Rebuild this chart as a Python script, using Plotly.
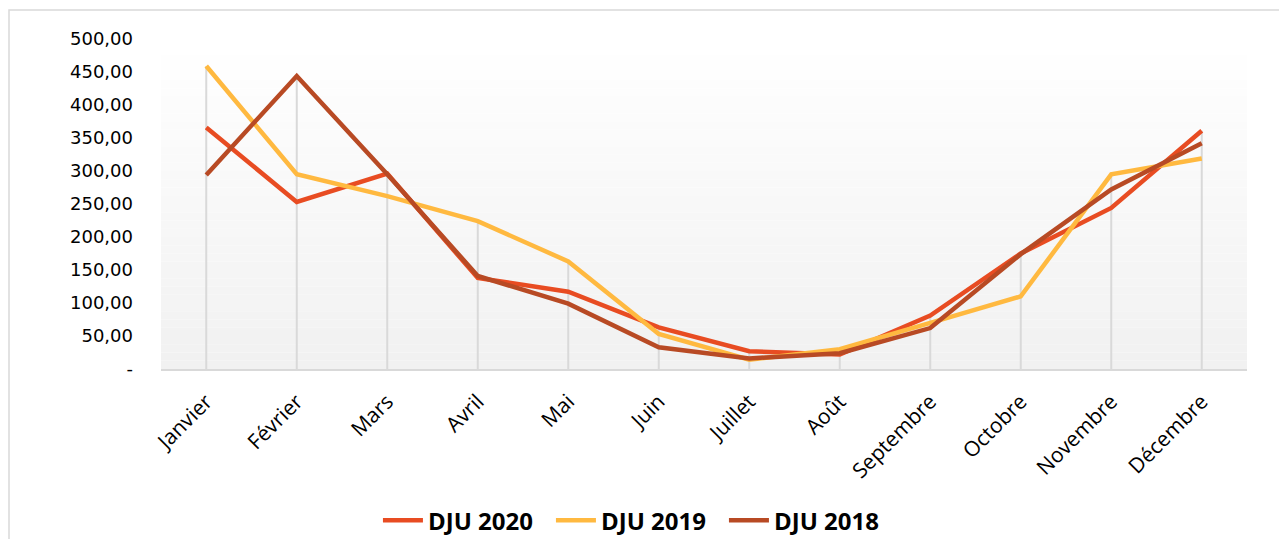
import plotly.graph_objects as go

# Monthly heating degree days (DJU)
months = ["Janvier", "Février", "Mars", "Avril", "Mai", "Juin", "Juillet",
          "Août", "Septembre", "Octobre", "Novembre", "Décembre"]
dju_2020 = [366, 253, 296, 138, 117, 63, 27, 22, 81, 175, 244, 361]
dju_2019 = [459, 295, 262, 224, 163, 53, 14, 30, 70, 110, 295, 319]
dju_2018 = [294, 444, 295, 141, 99, 33, 16, 24, 62, 174, 272, 342]

y_ticks = [0, 50, 100, 150, 200, 250, 300, 350, 400, 450, 500]
y_tick_text = ["-", "50,00", "100,00", "150,00", "200,00", "250,00",
               "300,00", "350,00", "400,00", "450,00", "500,00"]

fig = go.Figure()

# Drop lines from the highest value of each month down to the axis
drop_x, drop_y = [], []
for m, a, b, c in zip(months, dju_2020, dju_2019, dju_2018):
    drop_x += [m, m, None]
    drop_y += [0, max(a, b, c), None]
fig.add_trace(go.Scatter(x=drop_x, y=drop_y, mode="lines",
                         line=dict(color="#D9D9D9", width=2),
                         hoverinfo="skip", showlegend=False))

series = [("DJU 2020", dju_2020, "#E84C22"),
          ("DJU 2019", dju_2019, "#FFB940"),
          ("DJU 2018", dju_2018, "#B84A24")]
for name, vals, col in series:
    fig.add_trace(go.Scatter(x=months, y=vals, name=name, mode="lines",
                             line=dict(color=col, width=4.5)))

# Vertical gradient behind the plot area
PLOT_W, PLOT_H = 1086, 330
shapes = []
n = 40
for i in range(n):
    t = i / (n - 1)
    g = round(255 - 14 * t)
    shapes.append(dict(type="rect", xref="paper", yref="paper",
                       x0=0, x1=1, y0=1 - (i + 1) / n, y1=1 - i / n,
                       fillcolor=f"rgb({g},{g},{g})", line=dict(width=0),
                       layer="below"))
# Outer chart frame
shapes.append(dict(type="rect", xref="paper", yref="paper",
                   x0=(9 - 161) / PLOT_W, x1=1.2, y0=1 + 29 / PLOT_H, y1=-1,
                   line=dict(color="#D9D9D9", width=1.5),
                   fillcolor="rgba(0,0,0,0)", layer="below"))

fig.update_layout(
    width=1279, height=539,
    margin=dict(l=161, r=32, t=39, b=170, autoexpand=False),
    paper_bgcolor="white", plot_bgcolor="white",
    shapes=shapes,
    showlegend=True,
    legend=dict(orientation="h", xref="container", yref="container",
                x=0.2955, xanchor="left", y=0.034, yanchor="middle",
                font=dict(family="Open Sans", size=24, color="black",
                          weight="bold"),
                itemwidth=40, tracegroupgap=0,
                entrywidth=118, entrywidthmode="pixels"),
    xaxis=dict(type="category", range=[-0.5, 11.5], showgrid=False,
               showline=True, linecolor="#D9D9D9", linewidth=2,
               ticks="", tickangle=-45, ticklabelstandoff=10,
               automargin=False,
               tickfont=dict(family="Open Sans", size=21, color="black")),
    yaxis=dict(range=[0, 500], tickvals=y_ticks, ticktext=y_tick_text,
               showgrid=False, zeroline=False, showline=False, ticks="",
               ticklabelstandoff=27, automargin=False,
               tickfont=dict(family="DejaVu Sans", size=18, color="black")),
)

fig.write_html("out.html")
